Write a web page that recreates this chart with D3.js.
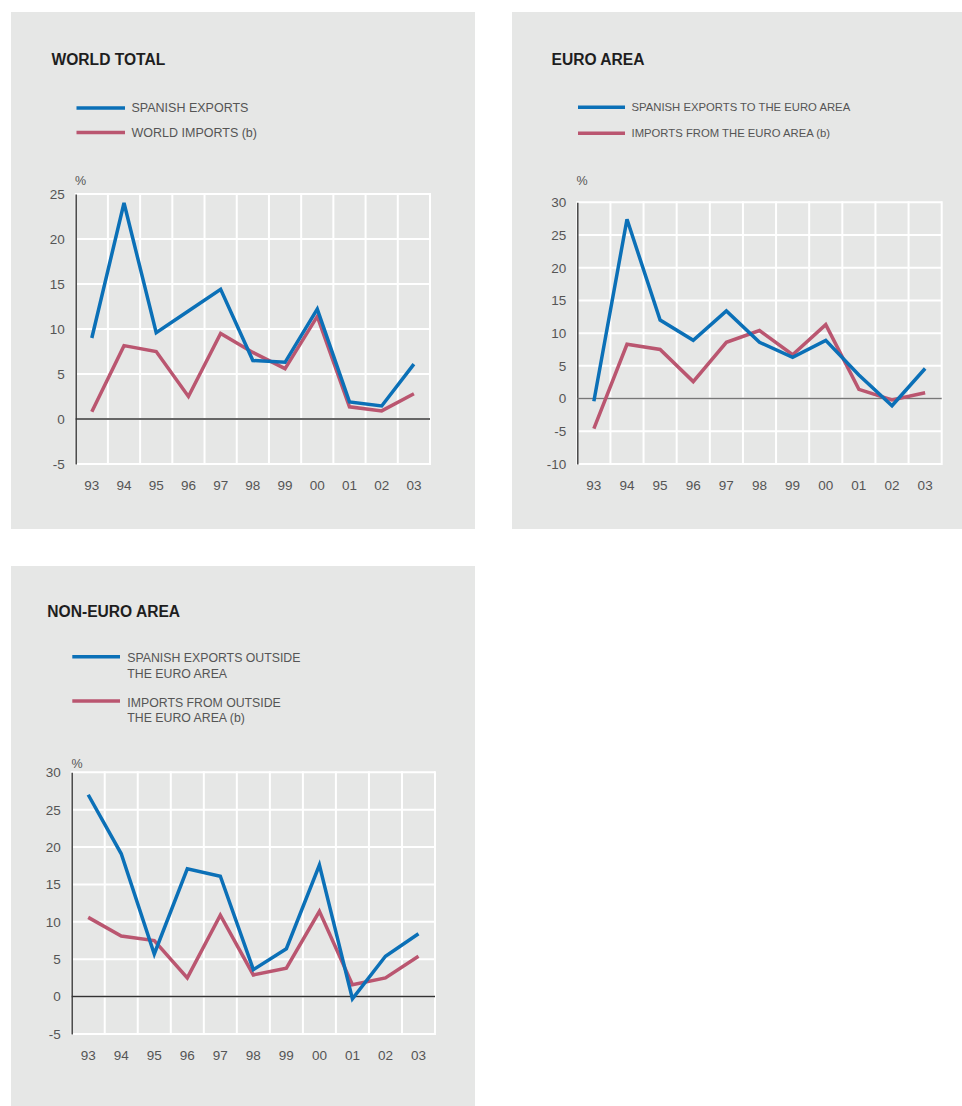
<!DOCTYPE html>
<html>
<head>
<meta charset="utf-8">
<script src="https://cdn.jsdelivr.net/npm/d3@7"></script>
<style>
  body { margin: 0; background: #fff; }
  svg { display: block; font-family: "Liberation Sans", Arial, sans-serif; }
</style>
</head>
<body>
<script>
// years on the x axis
var years = ["93","94","95","96","97","98","99","00","01","02","03"];

// world total
var worldExports = [9.0, 24.0, 9.6, 12.0, 14.4, 6.5, 6.3, 12.2, 1.9, 1.45, 6.1];
var worldImports = [0.8, 8.15, 7.5, 2.5, 9.5, 7.4, 5.6, 11.4, 1.35, 0.9, 2.8];
var worldTicks = [-5, 0, 5, 10, 15, 20, 25];

// euro area
var euroExports = [-0.4, 27.4, 12.0, 8.9, 13.4, 8.6, 6.3, 8.9, 3.6, -1.1, 4.6];
var euroImports = [-4.6, 8.3, 7.5, 2.6, 8.6, 10.4, 6.7, 11.3, 1.4, -0.2, 0.9];
var euroTicks = [-10, -5, 0, 5, 10, 15, 20, 25, 30];

// non-euro area
var nonEuroExports = [27.0, 19.1, 5.7, 17.1, 16.1, 3.6, 6.4, 17.6, -0.3, 5.4, 8.4];
var nonEuroImports = [10.6, 8.1, 7.5, 2.5, 10.9, 2.9, 3.8, 11.4, 1.6, 2.5, 5.4];
var nonEuroTicks = [-5, 0, 5, 10, 15, 20, 25, 30];

var BLUE = "#0b70b7";
var PINK = "#ba5670";

var svg = d3.select("body").append("svg")
    .attr("width", 962)
    .attr("height", 1106);

function drawPanel(o) {
    var g = svg.append("g");

    g.append("rect")
        .attr("x", o.bg[0]).attr("y", o.bg[1])
        .attr("width", o.bg[2]).attr("height", o.bg[3])
        .attr("fill", "#e6e7e6");

    g.append("text")
        .attr("x", o.title[0]).attr("y", o.title[1])
        .attr("dy", "0.35em")
        .attr("font-size", 15.6).attr("font-weight", "bold")
        .attr("fill", "#1e1e1e")
        .text(o.name);

    // legend
    o.legend.forEach(function (l) {
        g.append("line")
            .attr("x1", o.legX[0]).attr("x2", o.legX[1])
            .attr("y1", l.y).attr("y2", l.y)
            .attr("stroke", l.color).attr("stroke-width", 3.5);
        l.lines.forEach(function (t, i) {
            g.append("text")
                .attr("x", o.legX[2]).attr("y", l.ty + i * 15.5)
                .attr("dy", "0.35em")
                .attr("font-size", o.legSize).attr("fill", "#555")
                .text(t);
        });
    });

    var x = d3.scaleBand().domain(years).range([o.plot[0], o.plot[1]]);
    var y = d3.scaleLinear().domain(o.domain).range([o.plot[3], o.plot[2]]);

    // white grid
    var grid = g.append("g").attr("stroke", "#fff").attr("stroke-width", 2);
    grid.selectAll(".hg").data(o.ticks).enter().append("line")
        .attr("x1", o.plot[0]).attr("x2", o.plot[1])
        .attr("y1", function (d) { return y(d); })
        .attr("y2", function (d) { return y(d); });
    var bounds = years.map(function (d) { return x(d); }).concat([o.plot[1]]);
    grid.selectAll(".vg").data(bounds).enter().append("line")
        .attr("x1", function (d) { return d; }).attr("x2", function (d) { return d; })
        .attr("y1", o.plot[2] - 1).attr("y2", o.plot[3] + 1);

    // axes
    var ya = g.append("g")
        .attr("transform", "translate(" + o.plot[0] + ",0)")
        .call(d3.axisLeft(y).tickValues(o.ticks).tickSize(0).tickPadding(11)
            .tickFormat(function (d) { return String(d); }));
    ya.select(".domain").attr("stroke", "#444").attr("stroke-width", 1.5);
    ya.selectAll("text").attr("font-size", 13.5).attr("fill", "#555")
        .attr("font-family", "Liberation Sans, Arial, sans-serif");

    var xa = g.append("g")
        .attr("transform", "translate(0," + o.plot[3] + ")")
        .call(d3.axisBottom(x).tickSize(0).tickPadding(16));
    xa.select(".domain").remove();
    xa.selectAll("text").attr("font-size", 13.5).attr("fill", "#555")
        .attr("font-family", "Liberation Sans, Arial, sans-serif");

    g.append("line")
        .attr("x1", o.plot[0]).attr("x2", o.plot[1])
        .attr("y1", y(0)).attr("y2", y(0))
        .attr("stroke", o.zeroColor).attr("stroke-width", 1.5);

    g.append("text")
        .attr("x", o.pct[0]).attr("y", o.pct[1])
        .attr("dy", "0.35em").attr("text-anchor", "middle")
        .attr("font-size", 12.5).attr("fill", "#555")
        .text("%");

    var line = d3.line()
        .x(function (d, i) { return x(years[i]) + x.bandwidth() / 2; })
        .y(function (d) { return y(d); });

    o.series.forEach(function (s) {
        g.append("path")
            .datum(s.values)
            .attr("d", line)
            .attr("fill", "none")
            .attr("stroke", s.color)
            .attr("stroke-width", 3.5)
            .attr("stroke-linejoin", "miter");
    });
}

drawPanel({
    name: "WORLD TOTAL",
    bg: [11, 12, 464, 517],
    title: [51.5, 60],
    legX: [76.5, 125, 131.5],
    legSize: 12.5,
    legend: [
        {y: 108, ty: 108, color: BLUE, lines: ["SPANISH EXPORTS"]},
        {y: 132.5, ty: 132.5, color: PINK, lines: ["WORLD IMPORTS (b)"]}
    ],
    plot: [75.7, 430, 194, 464],
    domain: [-5, 25],
    ticks: worldTicks,
    zeroColor: "#333",
    pct: [80.5, 181],
    series: [
        {values: worldImports, color: PINK},
        {values: worldExports, color: BLUE}
    ]
});

drawPanel({
    name: "EURO AREA",
    bg: [512, 12, 450, 517],
    title: [551.5, 60],
    legX: [578, 625, 631.5],
    legSize: 11.3,
    legend: [
        {y: 107.3, ty: 107.3, color: BLUE, lines: ["SPANISH EXPORTS TO THE EURO AREA"]},
        {y: 133.3, ty: 133.3, color: PINK, lines: ["IMPORTS FROM THE EURO AREA (b)"]}
    ],
    plot: [577.3, 941.7, 202.3, 464],
    domain: [-10, 30],
    ticks: euroTicks,
    zeroColor: "#777",
    pct: [582, 181],
    series: [
        {values: euroImports, color: PINK},
        {values: euroExports, color: BLUE}
    ]
});

drawPanel({
    name: "NON-EURO AREA",
    bg: [11, 566, 464, 540],
    title: [47.3, 612],
    legX: [72.3, 120, 127.3],
    legSize: 12.3,
    legend: [
        {y: 656.7, ty: 658, color: BLUE, lines: ["SPANISH EXPORTS OUTSIDE", "THE EURO AREA"]},
        {y: 701, ty: 702.5, color: PINK, lines: ["IMPORTS FROM OUTSIDE", "THE EURO AREA (b)"]}
    ],
    plot: [71.7, 435, 772.3, 1034],
    domain: [-5, 30],
    ticks: nonEuroTicks,
    zeroColor: "#333",
    pct: [77, 763.5],
    series: [
        {values: nonEuroImports, color: PINK},
        {values: nonEuroExports, color: BLUE}
    ]
});
</script>
</body>
</html>
